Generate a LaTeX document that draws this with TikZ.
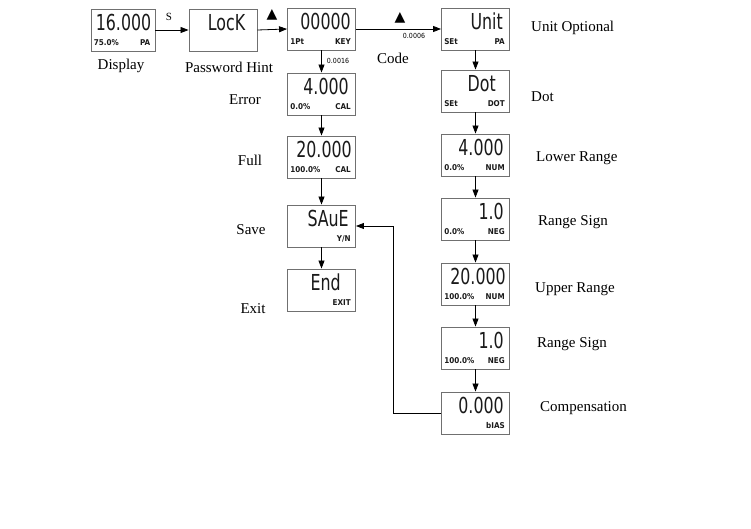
\documentclass[tikz,border=0pt]{standalone}
\usepackage{fontspec}
\setmainfont{Liberation Serif}
\newfontfamily\lcd[FakeStretch=0.72]{DejaVu Sans}
\newfontfamily\lcdsm[FakeStretch=0.9]{DejaVu Sans}
\newfontfamily\symf{DejaVu Sans}
\usetikzlibrary{arrows.meta}
\definecolor{boxgray}{HTML}{707070}
\definecolor{lcdtext}{HTML}{1A1A1A}
\tikzset{
  lcdbox/.style={draw=boxgray, line width=0.9pt, minimum width=68pt, minimum height=42pt, inner sep=0pt, fill=white},
  flow/.style={-{Triangle[length=8pt,width=6pt]}, line width=0.8pt},
  lbl/.style={font=\fontsize{15}{17}\selectfont, inner sep=0pt},
  big/.style={font=\lcd\fontsize{22}{22}\selectfont, text=lcdtext, inner sep=0pt, anchor=base east},
  small/.style={font=\lcdsm\bfseries\fontsize{8}{8}\selectfont, text=lcdtext, inner sep=0pt},
  tiny/.style={font=\lcdsm\fontsize{7}{7}\selectfont, inner sep=0pt},
  tri/.style={font=\symf\fontsize{14}{14}\selectfont, inner sep=0pt},
}
\newcommand\lcdpanel[7]{%
  \node[lcdbox] (#1) at (#2,#3) {};
  \node[big] (#1-top) at ([xshift=-#5pt,yshift=-22pt]#1.north east) {#4};
  \node[small, anchor=base west] (#1-bl) at ([xshift=3pt,yshift=6pt]#1.south west) {#6};
  \node[small, anchor=base east] (#1-br) at ([xshift=-5pt,yshift=6pt]#1.south east) {#7};
}
\begin{document}
\begin{tikzpicture}[x=1pt,y=-1pt]
\useasboundingbox[fill=white] (0,0) rectangle (751,529);
% top row
\node[lcdbox, minimum width=64pt] (disp) at (123,30) {};
\node[big] (disp-top) at ([xshift=-4pt,yshift=-22pt]disp.north east) {16.000};
\node[small, anchor=base west] (disp-bl) at ([xshift=3pt,yshift=6pt]disp.south west) {75.0\%};
\node[small, anchor=base east] (disp-br) at ([xshift=-5pt,yshift=6pt]disp.south east) {PA};
\lcdpanel{pwd}{223}{30}{LocK}{12}{}{}
\lcdpanel{code}{321.5}{29}{00000}{5}{1Pt}{KEY}
\lcdpanel{unit}{475.5}{29}{Unit}{7}{SEt}{PA}
% left column
\lcdpanel{err}{321.5}{94}{4.000}{7}{0.0\%}{CAL}
\lcdpanel{full}{321.5}{157}{20.000}{4}{100.0\%}{CAL}
\lcdpanel{save}{321.5}{226}{SAuE}{7}{}{Y/N}
\lcdpanel{endp}{321.5}{290}{End}{15}{}{EXIT}
% right column
\lcdpanel{dot}{475.5}{91}{Dot}{14}{SEt}{DOT}
\lcdpanel{low}{475.5}{155}{4.000}{6}{0.0\%}{NUM}
\lcdpanel{rs1}{475.5}{219}{1.0}{6}{0.0\%}{NEG}
\lcdpanel{up}{475.5}{284}{20.000}{4}{100.0\%}{NUM}
\lcdpanel{rs2}{475.5}{348}{1.0}{6}{100.0\%}{NEG}
\lcdpanel{comp}{475.5}{413}{0.000}{6}{}{bIAS}
% connectors
\draw[flow] (disp.east) -- (pwd.west);
\node[font=\fontsize{11}{11}\selectfont, inner sep=0pt] (s) at (169,17) {S};
\draw[flow] (pwd.east) -- (code.west);
\node[tri] (t1) at (272,15) {▲};
\draw[flow] (code.east) -- (unit.west);
\node[tri] (t2) at (400,18) {▲};
\node[tiny] (c6) at (414,36) {0.0006};
\draw[flow] (code.south) -- (err.north);
\node[tiny] (c16) at (338,61) {0.0016};
\draw[flow] (err.south) -- (full.north);
\draw[flow] (full.south) -- (save.north);
\draw[flow] (save.south) -- (endp.north);
\draw[flow] (unit.south) -- (dot.north);
\draw[flow] (dot.south) -- (low.north);
\draw[flow] (low.south) -- (rs1.north);
\draw[flow] (rs1.south) -- (up.north);
\draw[flow] (up.south) -- (rs2.north);
\draw[flow] (rs2.south) -- (comp.north);
\coordinate (fb) at (393,0);
\draw[flow] (comp.west) -| (fb |- save.east) -- (save.east);
% labels
\node[lbl] (l-disp) at (121,66) {Display};
\node[lbl] (l-pwd) at (229,67) {Password Hint};
\node[lbl] (l-code) at (393,58) {Code};
\node[lbl] (l-err) at (245,100) {Error};
\node[lbl] (l-full) at (250,160) {Full};
\node[lbl] (l-save) at (251,230) {Save};
\node[lbl] (l-exit) at (253,309) {Exit};
\node[lbl, anchor=west] (l-unit) at (531,28) {Unit Optional};
\node[lbl, anchor=west] (l-dot) at (531,97) {Dot};
\node[lbl, anchor=west] (l-low) at (536,158) {Lower Range};
\node[lbl, anchor=west] (l-rs1) at (538,222) {Range Sign};
\node[lbl, anchor=west] (l-up) at (535,289) {Upper Range};
\node[lbl, anchor=west] (l-rs2) at (537,344) {Range Sign};
\node[lbl, anchor=west] (l-comp) at (540,408) {Compensation};
\end{tikzpicture}
\end{document}
